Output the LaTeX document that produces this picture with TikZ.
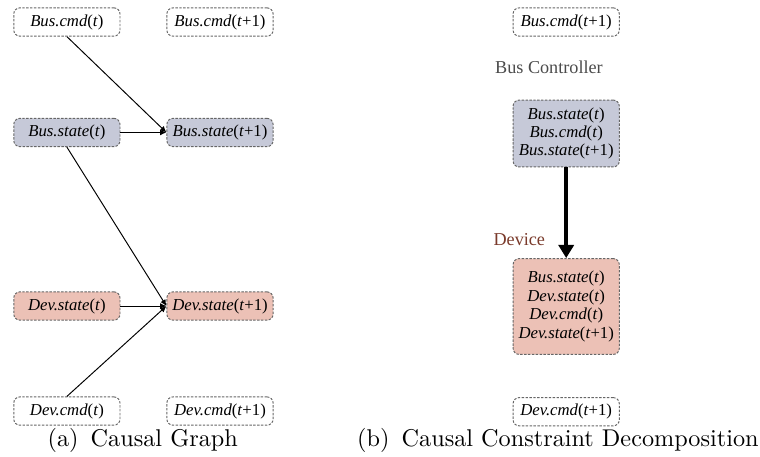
\documentclass[tikz,border=0pt]{standalone}
\usepackage{fontspec}
\usepackage{tikz}
\usetikzlibrary{shapes, arrows.meta, positioning}
\newfontfamily\gfont{Liberation Serif}
\definecolor{busfill}{RGB}{198,201,216}
\definecolor{devfill}{RGB}{236,193,182}
\definecolor{devtext}{RGB}{122,58,43}
\definecolor{ctrltext}{RGB}{75,75,75}
\tikzstyle{var} = [draw=gray!80!black, dash pattern=on 1pt off 0.6pt, line width=0.4pt, fill=white, rectangle, rounded corners=2.5pt, minimum width=1.54cm, minimum height=0.41cm, inner sep=1pt, font=\gfont\fontsize{6.9}{7.6}\selectfont, align=center]
\tikzstyle{busvar} = [var, fill=busfill]
\tikzstyle{devvar} = [var, fill=devfill]
\tikzstyle{label} = [font=\gfont\fontsize{7.5}{9}\selectfont]
\newcommand{\vt}[1]{\textit{#1}(\textit{t})}
\newcommand{\vn}[1]{\textit{#1}(\textit{t}+1)}

\begin{document}
\begin{tikzpicture}[>={Latex[length=2.6pt,width=2.4pt]}, node distance=2.22cm]
  \useasboundingbox (0,0) rectangle (11.02,-6.612);
  \node [var] (bcmd) at (0.97,-0.319) {\vt{Bus.cmd}};
  \node [var, right of=bcmd] (bcmdn) {\vn{Bus.cmd}};
  \node [busvar] (bstate) at (0.97,-1.921) {\vt{Bus.state}};
  \node [busvar, right of=bstate] (bstaten) {\vn{Bus.state}};
  \node [devvar] (dstate) at (0.97,-4.437) {\vt{Dev.state}};
  \node [devvar, right of=dstate] (dstaten) {\vn{Dev.state}};
  \node [var] (dcmd) at (0.97,-5.96) {\vt{Dev.cmd}};
  \node [var, right of=dcmd] (dcmdn) {\vn{Dev.cmd}};
  \draw [->, line width=0.4pt] (bcmd.south) -- (bstaten.west);
  \draw [->, line width=0.4pt] (bstate) -- (bstaten);
  \draw [->, line width=0.4pt] (bstate.south) -- (dstaten.west);
  \draw [->, line width=0.4pt] (dstate) -- (dstaten);
  \draw [->, line width=0.4pt] (dcmd.north) -- (dstaten.west);
  \node (capa) at (2.07,-6.39) {(a)\enspace Causal Graph};

  \node [var] (rbcmdn) at (8.21,-0.319) {\vn{Bus.cmd}};
  \node [label, text=ctrltext] (ctrl) at (7.96,-0.97) {Bus Controller};
  \node [busvar, minimum height=0.97cm] (busgrp) at (8.21,-1.936) {\vt{Bus.state}\\\vt{Bus.cmd}\\\vn{Bus.state}};
  \node [label, text=devtext] (dev) at (7.53,-3.47) {Device};
  \node [devvar, minimum height=1.39cm] (devgrp) at (8.21,-4.444) {\vt{Bus.state}\\\vt{Dev.state}\\\vt{Dev.cmd}\\\vn{Dev.state}};
  \node [var] (rdcmdn) at (8.21,-5.97) {\vn{Dev.cmd}};
  \draw [-{Triangle[length=5.4pt,width=6.2pt]}, line width=1.6pt] (busgrp) -- (devgrp);
  \node (capb) at (8.09,-6.39) {(b)\enspace Causal Constraint Decomposition};
\end{tikzpicture}
\end{document}
